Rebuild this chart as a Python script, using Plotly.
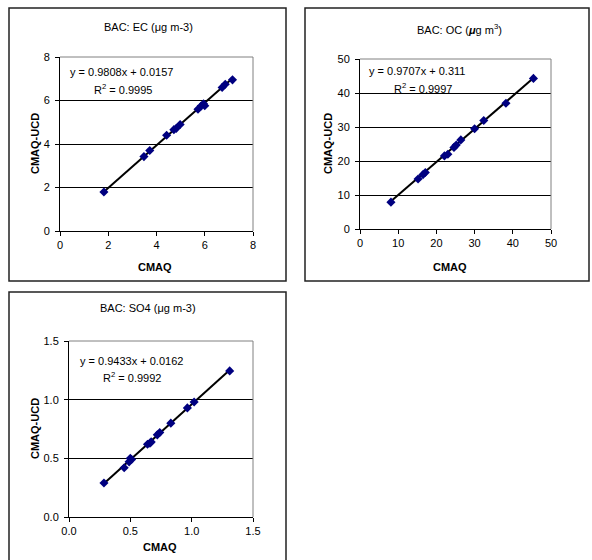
import plotly.graph_objects as go

W, H = 592, 560

# ---- data ----
ec_x = [1.82, 3.48, 3.72, 4.42, 4.72, 4.82, 4.98, 5.72, 5.85, 5.95, 6.00, 6.72, 6.85, 7.15]
ec_y = [1.79, 3.42, 3.70, 4.40, 4.66, 4.72, 4.90, 5.60, 5.75, 5.85, 5.76, 6.60, 6.75, 6.95]
ec_fit = [0.9808, 0.0157]

oc_x = [8.1, 15.2, 16.5, 17.1, 22.1, 23.0, 24.6, 25.2, 26.4, 30.0, 32.4, 38.2, 45.4]
oc_y = [7.9, 14.7, 16.0, 16.6, 21.5, 22.0, 24.0, 24.7, 26.2, 29.5, 31.9, 37.0, 44.3]
oc_fit = [0.9707, 0.311]

so4_x = [0.285, 0.45, 0.49, 0.50, 0.51, 0.64, 0.66, 0.67, 0.72, 0.74, 0.83, 0.965, 1.02, 1.31]
so4_y = [0.29, 0.42, 0.47, 0.50, 0.49, 0.62, 0.63, 0.64, 0.70, 0.72, 0.80, 0.93, 0.98, 1.245]
so4_fit = [0.9433, 0.0162]

titles = ["BAC: EC (μg m-3)",
          "BAC: OC (<b><i>μ</i></b>g m<sup>3</sup>)",
          "BAC: SO4 (μg m-3)"]
eqs = ["y = 0.9808x + 0.0157", "y = 0.9707x + 0.311", "y = 0.9433x + 0.0162"]
r2s = ["R<sup>2</sup> = 0.9995", "R<sup>2</sup> = 0.9997", "R<sup>2</sup> = 0.9992"]
xlab = "CMAQ"
ylab = "CMAQ-UCD"

ec_ticks = [0, 2, 4, 6, 8]
oc_ticks = [0, 10, 20, 30, 40, 50]
so4_ticks = [0.0, 0.5, 1.0, 1.5]

FONT = "Arial, Liberation Sans, sans-serif"

def px(x):
    return x / W

def py(y):
    return 1 - y / H

panels = [
    dict(xs=ec_x, ys=ec_y, fit=ec_fit, ticks=ec_ticks, fmt=None,
         plot=(60, 253, 57, 231), box=(9, 286, 8, 281),
         title=(148, 27), eq=(68, 72), r2=(92, 89), xl=(155, 267), yl=(35, 144)),
    dict(xs=oc_x, ys=oc_y, fit=oc_fit, ticks=oc_ticks, fmt=None,
         plot=(360, 551, 59, 229), box=(305, 589, 8, 281),
         title=(460, 29), eq=(367, 71), r2=(392, 88), xl=(450, 267), yl=(328, 144)),
    dict(xs=so4_x, ys=so4_y, fit=so4_fit, ticks=so4_ticks, fmt=".1f",
         plot=(69, 253, 341, 517), box=(9, 286, 292, 570),
         title=(148, 308), eq=(78, 361), r2=(101, 377), xl=(160, 547), yl=(35, 429)),
]

fig = go.Figure()
shapes = []
annotations = []

for i, p in enumerate(panels):
    n = "" if i == 0 else str(i + 1)
    xa, ya = "x" + n, "y" + n
    x0, x1, y0, y1 = p["plot"]
    t = p["ticks"]
    # trendline
    lx = [min(p["xs"]), max(p["xs"])]
    ly = [p["fit"][0] * v + p["fit"][1] for v in lx]
    fig.add_trace(go.Scatter(x=lx, y=ly, mode="lines", line=dict(color="black", width=2),
                             xaxis=xa, yaxis=ya, showlegend=False, hoverinfo="skip"))
    fig.add_trace(go.Scatter(x=p["xs"], y=p["ys"], mode="markers",
                             marker=dict(symbol="diamond", size=7, color="#000080"),
                             xaxis=xa, yaxis=ya, showlegend=False))
    axcommon = dict(range=[t[0], t[-1]], tickvals=t, showline=True, linecolor="black", linewidth=1,
                    ticks="outside", ticklen=4, tickcolor="black", zeroline=False, automargin=False,
                    tickfont=dict(family=FONT, size=11, color="black"))
    if p["fmt"]:
        axcommon["tickformat"] = p["fmt"]
    fig.layout["xaxis" + n] = dict(axcommon, domain=[px(x0), px(x1)], anchor=ya, showgrid=False)
    fig.layout["yaxis" + n] = dict(axcommon, domain=[py(y1), py(y0)], anchor=xa, showgrid=True,
                                   gridcolor="black", gridwidth=1, ticklabelstandoff=3)
    # gray plot-area border (top and right)
    shapes.append(dict(type="line", xref="paper", yref="paper", x0=px(x0), x1=px(x1), y0=py(y0), y1=py(y0),
                       line=dict(color="#808080", width=1)))
    shapes.append(dict(type="line", xref="paper", yref="paper", x0=px(x1), x1=px(x1), y0=py(y0), y1=py(y1),
                       line=dict(color="#808080", width=1)))
    # panel box
    bx0, bx1, by0, by1 = p["box"]
    shapes.append(dict(type="rect", xref="paper", yref="paper", x0=px(bx0), x1=px(bx1), y0=py(by1), y1=py(by0),
                       line=dict(color="#222222", width=1.5)))
    # texts
    annotations.append(dict(text=titles[i], x=px(p["title"][0]), y=py(p["title"][1]), xref="paper", yref="paper",
                            showarrow=False, xanchor="center", yanchor="middle",
                            font=dict(family=FONT, size=11, color="black")))
    annotations.append(dict(text=eqs[i], x=px(p["eq"][0]), y=py(p["eq"][1]), xref="paper", yref="paper",
                            showarrow=False, xanchor="left", yanchor="middle",
                            font=dict(family=FONT, size=11, color="black")))
    annotations.append(dict(text=r2s[i], x=px(p["r2"][0]), y=py(p["r2"][1]), xref="paper", yref="paper",
                            showarrow=False, xanchor="left", yanchor="middle",
                            font=dict(family=FONT, size=11, color="black")))
    annotations.append(dict(text="<b>" + xlab + "</b>", x=px(p["xl"][0]), y=py(p["xl"][1]), xref="paper",
                            yref="paper", showarrow=False, xanchor="center", yanchor="middle",
                            font=dict(family=FONT, size=11, color="black")))
    annotations.append(dict(text="<b>" + ylab + "</b>", x=px(p["yl"][0]), y=py(p["yl"][1]), xref="paper",
                            yref="paper", showarrow=False, xanchor="center", yanchor="middle", textangle=-90,
                            font=dict(family=FONT, size=11, color="black")))

fig.update_layout(width=W, height=H, margin=dict(l=0, r=0, t=0, b=0, pad=0),
                  paper_bgcolor="white", plot_bgcolor="white",
                  shapes=shapes, annotations=annotations)

fig.write_html("out.html", config={"displayModeBar": False},
               post_script="document.body.style.margin='0';")
